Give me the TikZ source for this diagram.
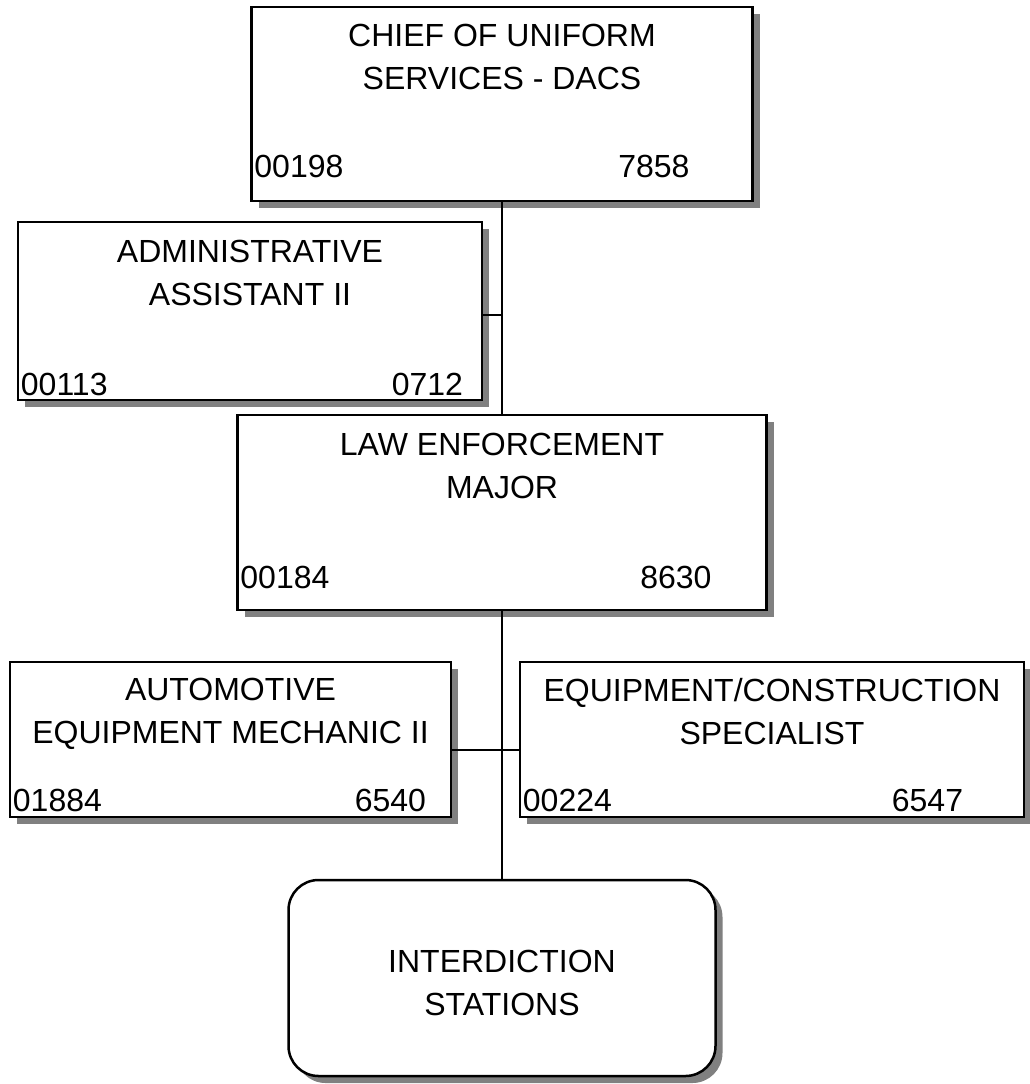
\documentclass[tikz,border=0pt]{standalone}
\usepackage{fontspec}
\setmainfont{Liberation Sans}
\usetikzlibrary{positioning, shadows}

\begin{document}
\begin{tikzpicture}[
  x=1pt, y=-1pt,
  post/.style={rectangle, draw, line width=2.5pt, fill=white, inner sep=0pt,
    drop shadow={shadow xshift=7pt, shadow yshift=-7pt, fill=black!50, opacity=1}},
  title/.style={align=center, inner sep=0pt, font=\fontsize{32}{43}\selectfont},
  code/.style={inner sep=0pt, font=\fontsize{32}{38}\selectfont},
  link/.style={line width=2pt}
]
\useasboundingbox (0,0) rectangle (1029,1084);

\node[post, minimum width=501pt, minimum height=194pt] (chief) at (502,104) {};
\node[title, below=18pt of chief.north] (chieft) {CHIEF OF UNIFORM\\SERVICES - DACS};
\node[code, above right=24pt and 4pt of chief.south west] (chiefa) {00198};
\node[code, above left=24pt and 64pt of chief.south east] (chiefb) {7858};

\node[post, minimum width=464pt, minimum height=178pt] (admin) at (250,311) {};
\node[title, below=19pt of admin.north] (admint) {ADMINISTRATIVE\\ASSISTANT II};
\node[code, above right=5pt and 4pt of admin.south west] (admina) {00113};
\node[code, above left=5pt and 20pt of admin.south east] (adminb) {0712};

\node[post, minimum width=529pt, minimum height=195pt] (law) at (502,512.5) {};
\node[title, below=19pt of law.north] (lawt) {LAW ENFORCEMENT\\MAJOR};
\node[code, above right=22pt and 4pt of law.south west] (lawa) {00184};
\node[code, above left=22pt and 56pt of law.south east] (lawb) {8630};

\node[post, minimum width=441pt, minimum height=155pt] (auto) at (230.5,739.5) {};
\node[title, below=17pt of auto.north] (autot) {AUTOMOTIVE\\EQUIPMENT MECHANIC II};
\node[code, above right=6pt and 4pt of auto.south west] (autoa) {01884};
\node[code, above left=6pt and 26pt of auto.south east] (autob) {6540};

\node[post, minimum width=504pt, minimum height=155pt] (equip) at (772,739.5) {};
\node[title, below=17pt of equip.north] (equipt) {EQUIPMENT/CONSTRUCTION\\SPECIALIST};
\node[code, above right=6pt and 4pt of equip.south west] (equipa) {00224};
\node[code, above left=6pt and 62pt of equip.south east] (equipb) {6547};

\node[post, rounded corners=30pt, minimum width=427pt, minimum height=196pt] (station) at (502,978) {};
\node[title, above=-5pt of station.center, anchor=center] (stationt) {INTERDICTION\\STATIONS};

\draw[link] (chief.south) -- (law.north);
\draw[link] ([yshift=-4pt]admin.east) -- ([yshift=-4pt]admin.east -| chief.south);
\draw[link] (law.south) -- (station.north);
\draw[link] ([yshift=-10pt]auto.east) -- ([yshift=-10pt]equip.west);
\end{tikzpicture}
\end{document}
